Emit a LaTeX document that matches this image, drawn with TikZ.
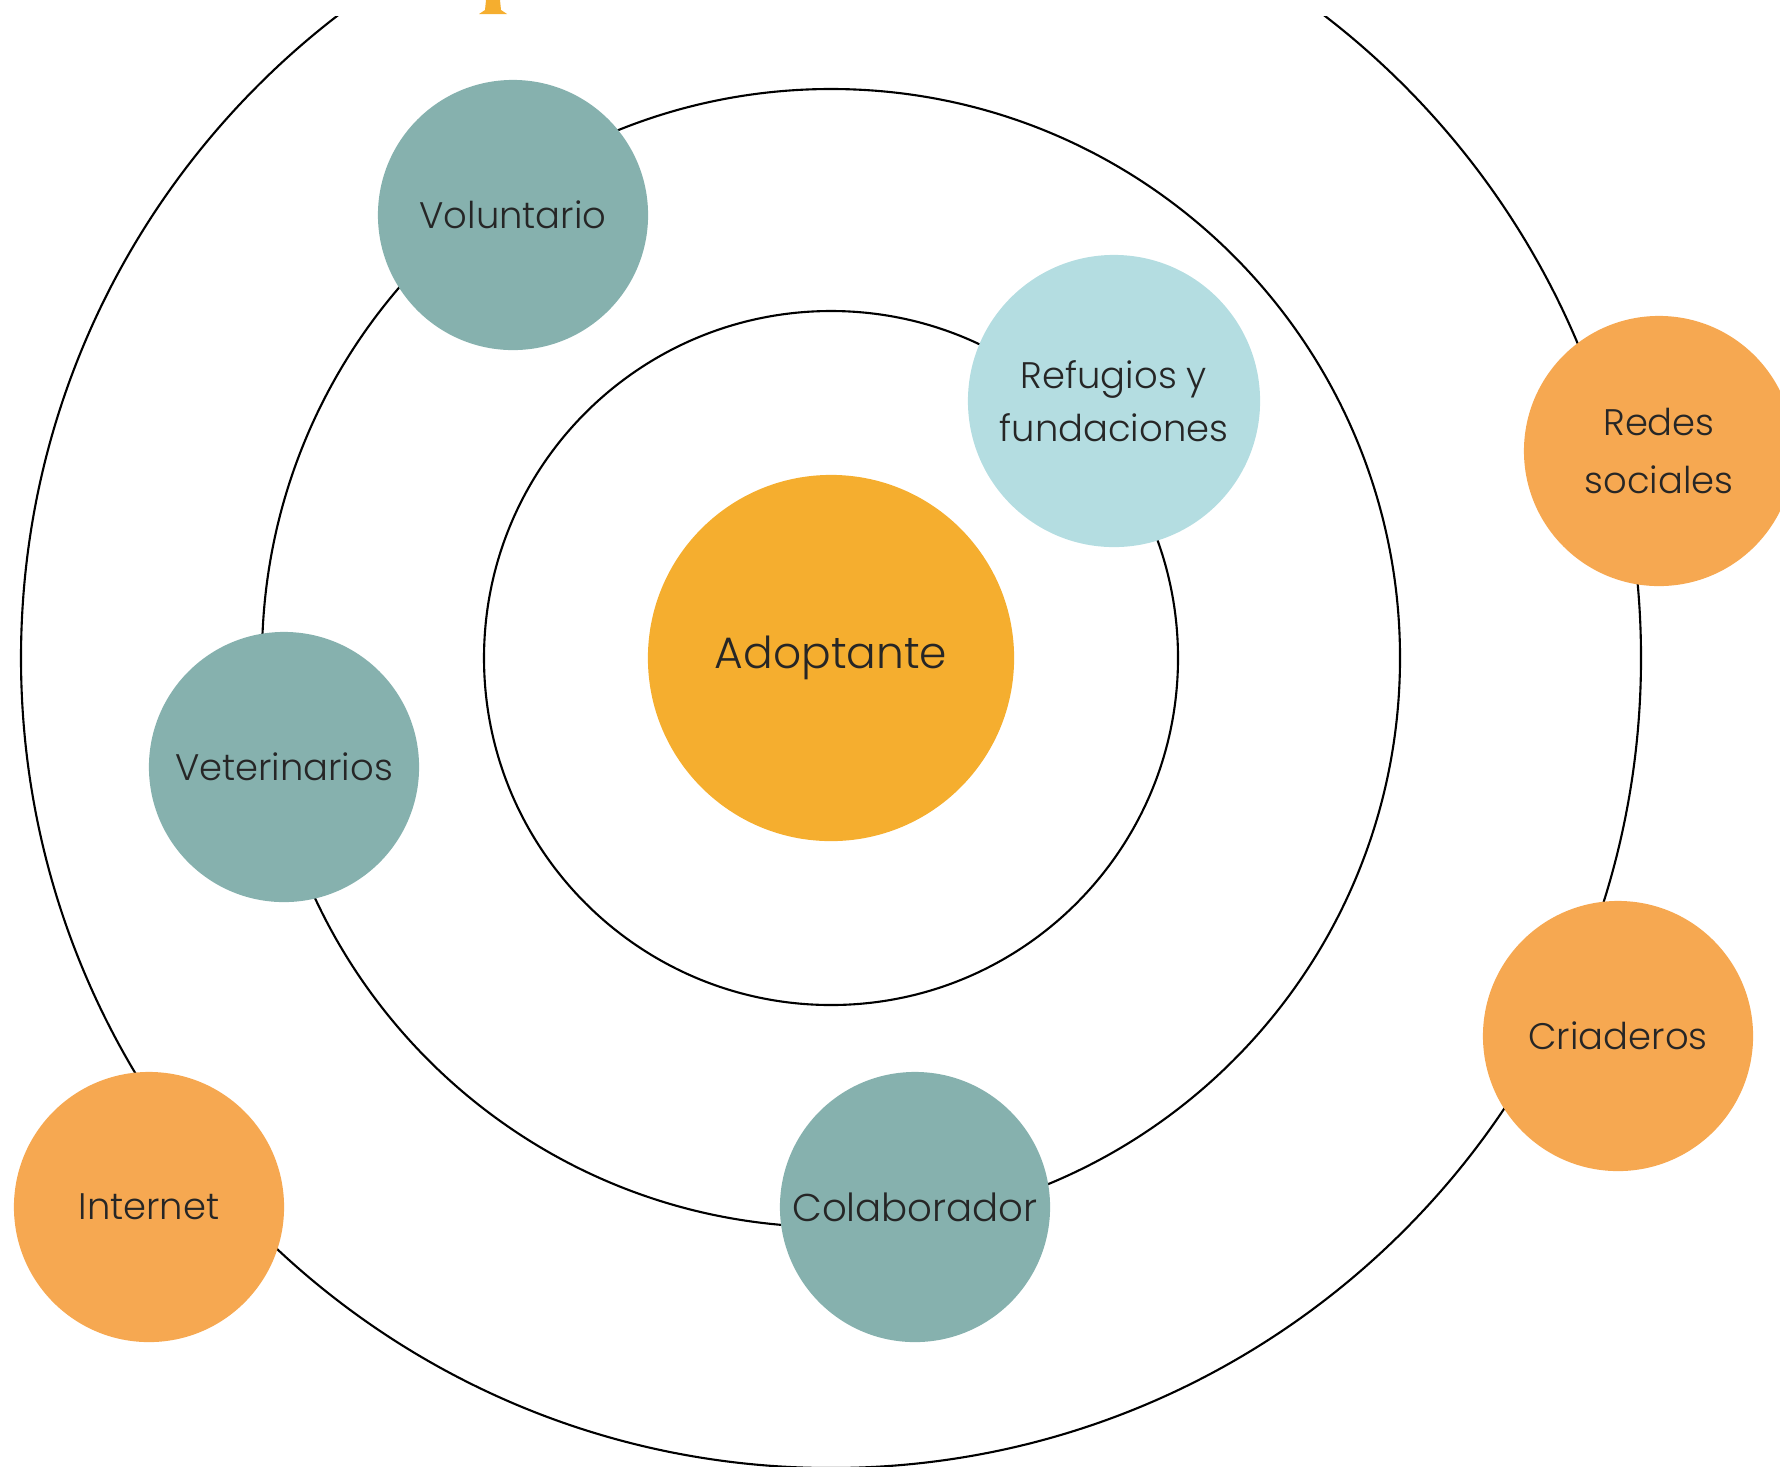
\documentclass[tikz,border=0pt]{standalone}
\usepackage{fontspec}
\setmainfont{Poppins Light}
\usetikzlibrary{positioning}
\definecolor{adoptcol}{HTML}{F5AE2F}
\definecolor{orangecol}{HTML}{F6A851}
\definecolor{tealcol}{HTML}{86B1AE}
\definecolor{bluecol}{HTML}{B4DDE1}

\begin{document}
\begin{tikzpicture}[x=0.01cm, y=-0.01cm,
    bubble/.style={circle, inner sep=0pt, minimum size=2.7cm, align=center, text=black!85, font=\fontsize{10.5}{15}\selectfont},
    ring/.style={draw=black, line width=0.6pt}]
    \useasboundingbox (0,0) rectangle (1780,1466);
    \coordinate (ctr) at (831,658);
    % rings, cut at the top
    \begin{scope}
        \clip (0,16) rectangle (1780,1466);
        \draw[ring] (ctr) circle[radius=347];
        \draw[ring] (ctr) circle[radius=569];
        \draw[ring] (ctr) circle[radius=810];
    \end{scope}
    \fill[adoptcol] (486,0) -- (500,0) -- (501,10) -- (507,14) -- (479,14) -- (485,10) -- cycle;
    % bubbles
    \node[bubble, fill=adoptcol, minimum size=3.66cm, font=\fontsize{12.5}{15}\selectfont] (adopt) at (ctr) {Adoptante};
    \node[bubble, fill=bluecol, minimum size=2.92cm] (refug) at (1114,401) {Refugios y\\fundaciones};
    \node[bubble, fill=tealcol] (volunt) at (513,215) {Voluntario};
    \node[bubble, fill=tealcol] (vet) at (284,767) {Veterinarios};
    \node[bubble, fill=tealcol, font=\fontsize{11}{15}\selectfont] (colab) at (915,1207) {Colaborador};
    \node[bubble, fill=orangecol] (inet) at (149,1207) {Internet};
    \node[bubble, fill=orangecol] (criad) at (1618,1036) {Criaderos};
    \node[bubble, fill=orangecol, font=\fontsize{10.5}{16.5}\selectfont] (redes) at (1659,451) {Redes\\sociales};
\end{tikzpicture}
\end{document}
